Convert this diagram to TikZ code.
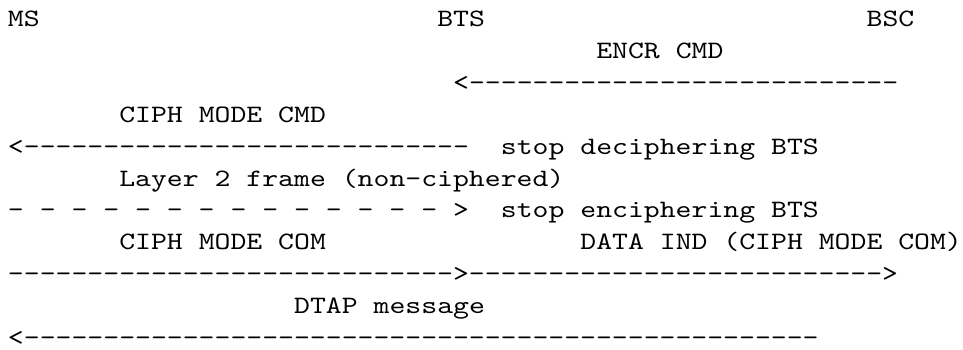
\documentclass[tikz,border=0pt]{standalone}
\usepackage{fontspec}
\setmonofont{lmmono10-regular.otf}[FakeStretch=1.211]
\usetikzlibrary{positioning}

\ExplSyntaxOn
\cs_new:Npn \dashrun #1 { \prg_replicate:nn {#1} {-} }
\ExplSyntaxOff

\begin{document}
\begin{tikzpicture}[
  x=15.9pt, y=-31.8pt,
  msg/.style={font=\ttfamily\fontsize{25pt}{32pt}\selectfont,
              anchor=base west, inner sep=0pt, outer sep=0pt}
]
\useasboundingbox (-8pt,27pt) rectangle (955pt,-323pt);
% entities
\node[msg] (ms)  at (0,0)  {MS};
\node[msg] (bts) at (27,0) {BTS};
\node[msg] (bsc) at (54,0) {BSC};
% BSC -> BTS
\node[msg] (encr)      at (37,1) {ENCR CMD};
\node[msg] (encrarrow) at (28,2) {<\dashrun{27}};
% BTS -> MS
\node[msg] (ciphcmd)  at (7,3)  {CIPH MODE CMD};
\node[msg] (cmdarrow) at (0,4)  {<\dashrun{28}};
\node[msg] (stopdec)  at (31,4) {stop deciphering BTS};
% MS -> BTS, non-ciphered
\node[msg] (layer)      at (7,5)  {Layer 2 frame (non-ciphered)};
\node[msg] (framearrow) at (0,6)  {- - - - - - - - - - - - - - >};
\node[msg] (stopenc)    at (31,6) {stop enciphering BTS};
% MS -> BTS -> BSC
\node[msg] (ciphcom)  at (7,7)  {CIPH MODE COM};
\node[msg] (dataind)  at (36,7) {DATA IND (CIPH MODE COM)};
\node[msg] (comarrow) at (0,8)  {\dashrun{28}>\dashrun{26}>};
% BSC -> MS
\node[msg] (dtap)      at (18,9) {DTAP message};
\node[msg] (dtaparrow) at (0,10) {<\dashrun{50}};
\end{tikzpicture}
\end{document}
